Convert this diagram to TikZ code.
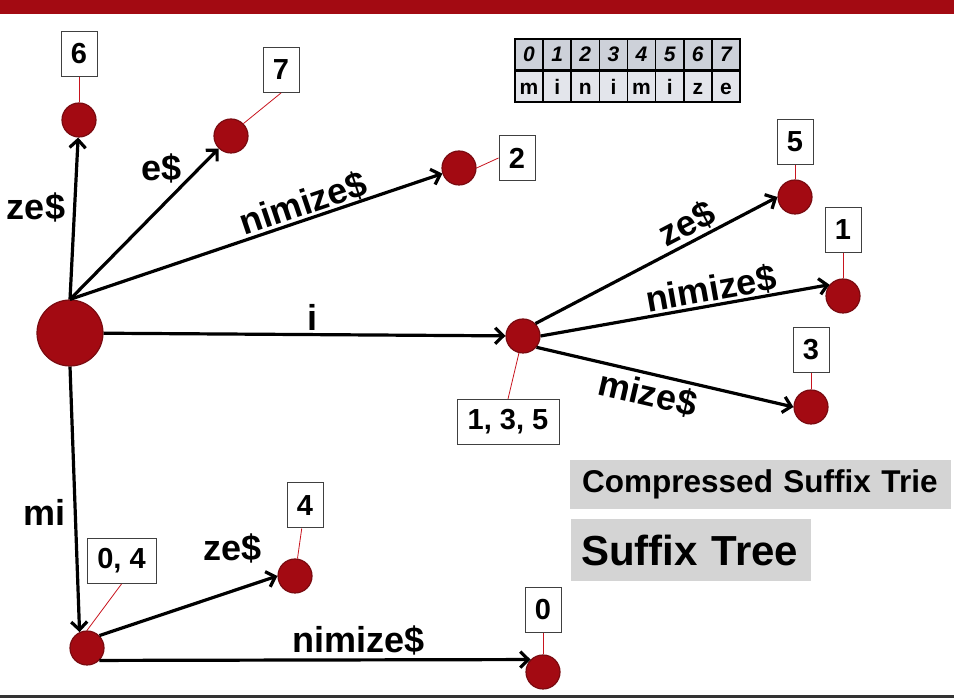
\documentclass[tikz,border=0pt]{standalone}
\usepackage{fontspec}
\setmainfont{Liberation Sans}
\usetikzlibrary{positioning}
\usetikzlibrary{shapes,arrows,arrows.meta}
\definecolor{darkred}{HTML}{A30A12}
\definecolor{nodeedge}{HTML}{7A0A10}
\definecolor{pointred}{HTML}{C8141E}
\definecolor{titlegray}{HTML}{D4D4D4}
\definecolor{headcell}{HTML}{CDD1D9}
\definecolor{charcell}{HTML}{E3E5EB}
\tikzstyle{suffix} = [circle, draw=nodeedge, line width=1.2pt, fill=darkred,
    minimum size=34pt, inner sep=0pt]
\tikzstyle{index} = [rectangle, draw=black!75, line width=1pt, fill=white,
    minimum width=36pt, minimum height=45pt, inner sep=4pt,
    font=\fontsize{29}{32}\selectfont\bfseries]
\tikzstyle{line} = [draw, line width=3.2pt, -{Straight Barb[length=8pt,width=16pt]}]
\tikzstyle{pointer} = [draw=pointred, line width=0.8pt]
\tikzstyle{lbl} = [font=\fontsize{36}{40}\selectfont\bfseries, inner sep=0pt]
\tikzstyle{title} = [rectangle, fill=titlegray, inner xsep=12pt, align=left, anchor=west]
\tikzstyle{cell} = [rectangle, draw=black, line width=1.6pt, minimum width=28.1pt,
    minimum height=30.5pt, inner sep=0pt, text height=15pt, text depth=0pt,
    font=\fontsize{21}{23}\selectfont\bfseries]

\begin{document}
\begin{tikzpicture}[x=1pt, y=1pt, node distance=60pt]
    \useasboundingbox (0,0) rectangle (954,698);
    % header and footer bars
    \fill [darkred] (0,684) rectangle (954,698);
    \fill [black!80] (0,0) rectangle (954,3);
    % Place nodes
    \node [suffix, minimum size=66pt] (root) at (70,365) {};
    \node [suffix] (n6) at (79,578) {};
    \node [suffix] (n7) at (231,562) {};
    \node [suffix] (n2) at (459,530) {};
    \node [suffix] (n135) at (523,362) {};
    \node [suffix] (n5) at (795,501) {};
    \node [suffix] (n1) at (843,402) {};
    \node [suffix] (n3) at (811,291) {};
    \node [suffix] (n04) at (87,50) {};
    \node [suffix] (n4) at (295,122) {};
    \node [suffix] (n0) at (543,26) {};
    % suffix positions
    \node [index, above of=n6, node distance=66pt] (i6) {6};
    \node [index] (i7) at (281,628) {7};
    \node [index] (i2) at (517,540) {2};
    \node [index, above of=n5, node distance=55pt] (i5) {5};
    \node [index, above of=n1, node distance=66pt] (i1) {1};
    \node [index, above of=n3, node distance=57pt] (i3) {3};
    \node [index, minimum width=102pt] (i135) at (508,276) {1, 3, 5};
    \node [index, minimum width=69pt] (i04) at (121.5,137) {0, 4};
    \node [index] (i4) at (305,192.5) {4};
    \node [index, above of=n0, node distance=62pt] (i0) {0};
    \path [pointer] (i6) -- (n6);
    \path [pointer] (i7.south) -- (n7.45);
    \path [pointer] (i2.west) -- (n2.east);
    \path [pointer] (i5) -- (n5);
    \path [pointer] (i1) -- (n1);
    \path [pointer] (i3) -- (n3);
    \path [pointer] (i135.north) -- (n135);
    \path [pointer] (i04.south) -- (n04.north);
    \path [pointer] (i4) -- (n4);
    \path [pointer] (i0) -- (n0);
    % arrows
    \path [line] (root.north) -- node [lbl, pos=0.57, left=8pt] {ze\$} (n6);
    \path [line] (root.north) -- node [lbl, pos=0.76, above left] {e\$} (n7);
    \path [line] (root.north) -- node [lbl, pos=0.64, sloped, above] {nimize\$} (n2);
    \path [line] (root) -- node [lbl, pos=0.52, above=2pt] {i} (n135);
    \path [line] (root.south) -- node [lbl, pos=0.55, left=8pt] {mi} (n04.115);
    \path [line] (n135.45) -- node [lbl, pos=0.66, sloped, above=2pt] {ze\$} (n5.west);
    \path [line] (n135.east) -- node [lbl, pos=0.6, sloped, above] {nimize\$} (n1.140);
    \path [line] (n135.-40) -- node [lbl, pos=0.45, sloped, below=4pt] {mize\$} (n3.west);
    \path [line] (n04.45) -- node [lbl, pos=0.75, above=26pt] {ze\$} (n4.west);
    \path [line] (n04.-45) -- node [lbl, pos=0.6, above=3pt] {nimize\$} (n0.135);
    % the string and its positions
    \foreach \c [count=\i from 0] in {m,i,n,i,m,i,z,e} {
        \node [cell, fill=headcell, font=\fontsize{21}{23}\selectfont\bfseries\itshape]
            (h\i) at (529.06+28.125*\i,643.5) {\i};
        \node [cell, fill=charcell, below=0pt of h\i] (c\i) {\c};
    }
    % titles
    \node [title, text width=357pt, minimum height=49pt,
        font=\fontsize{31.5}{34}\selectfont\bfseries] (trie) at (570,213.5) {Compressed Suffix Trie};
    \node [title, text width=220pt, inner xsep=10pt, minimum height=62pt,
        font=\fontsize{42}{46}\selectfont\bfseries] (tree) at (571,148) {Suffix Tree};
\end{tikzpicture}
\end{document}
